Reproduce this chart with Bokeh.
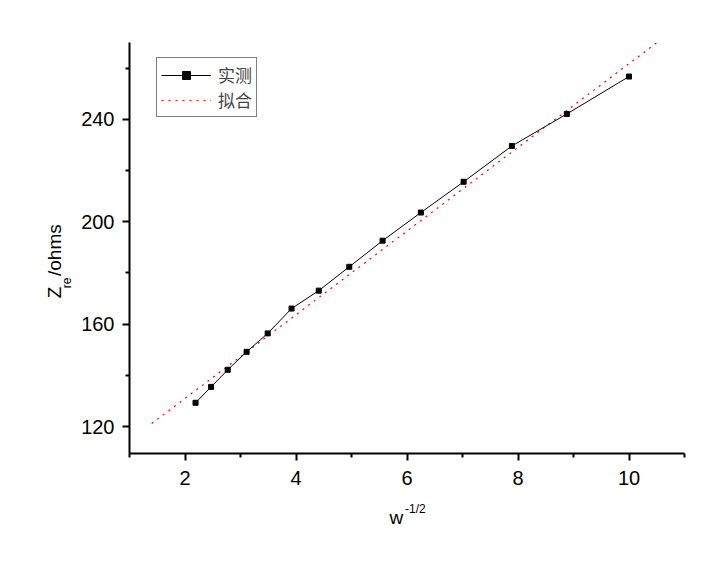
from bokeh.plotting import figure
from bokeh.models import Range1d, FixedTicker, Legend, LegendItem, LinearAxis
from bokeh.embed import file_html
from bokeh.resources import INLINE

# measured data (实测)
meas_x = [2.19, 2.47, 2.77, 3.11, 3.49, 3.92, 4.41, 4.96, 5.56, 6.25, 7.02, 7.89, 8.88, 10.0]
meas_y = [129.3, 135.5, 142.2, 149.2, 156.4, 166.1, 173.1, 182.4, 192.6, 203.6, 215.6, 229.6, 242.1, 256.7]

# fitted line (拟合)
fit_x = [1.4, 10.5]
fit_y = [121.2, 269.9]

x_major = [2, 4, 6, 8, 10]
x_minor = [1, 3, 5, 7, 9, 11]
y_major = [120, 160, 200, 240]
y_minor = [140, 180, 220, 260]

FONT = "Liberation Sans"
NB = "\u00a0"

p = figure(frame_width=555, frame_height=411,
           min_border_left=129, min_border_right=30, min_border_top=42, min_border_bottom=110,
           x_range=Range1d(1, 11), y_range=Range1d(109.5, 270),
           output_backend="svg", toolbar_location=None)
p.xgrid.visible = False
p.ygrid.visible = False
p.outline_line_color = None
p.background_fill_color = "white"
p.border_fill_color = "white"

p.xaxis.ticker = FixedTicker(ticks=x_major, minor_ticks=x_minor)
p.yaxis.ticker = FixedTicker(ticks=y_major, minor_ticks=y_minor)
for ax in (p.xaxis, p.yaxis):
    ax.axis_line_width = 2
    ax.major_tick_line_width = 2
    ax.minor_tick_line_width = 2
    ax.major_tick_out = 7
    ax.major_tick_in = 0
    ax.minor_tick_out = 4
    ax.minor_tick_in = 0
    ax.major_label_text_font = FONT
    ax.major_label_text_font_size = "20px"
    ax.major_label_text_color = "black"
    ax.axis_line_color = "black"
    ax.major_tick_line_color = "black"
    ax.minor_tick_line_color = "black"
p.xaxis.major_label_standoff = 10
p.yaxis.major_label_standoff = 8


def title_axis(place, text, size, standoff):
    ax = LinearAxis(ticker=FixedTicker(ticks=[]), axis_line_color=None,
                    major_tick_out=0, major_tick_in=0, minor_tick_out=0, minor_tick_in=0,
                    major_label_text_font_size="0px", major_label_standoff=0,
                    axis_label=text, axis_label_text_font=FONT,
                    axis_label_text_font_size=size, axis_label_text_font_style="normal",
                    axis_label_text_color="black", axis_label_standoff=standoff)
    p.add_layout(ax, place)


# x title: w^(-1/2)  (superscript row first, closer to the frame)
title_axis("below", NB * 5 + "-1/2", "12px", 14)
title_axis("below", "w" + NB * 4, "19px", -12)
# y title: Z_re/ohms  (subscript column first, closer to the frame)
title_axis("left", "re" + NB * 21, "12px", 5)
title_axis("left", "Z" + NB * 2 + "/ohms" + NB * 5, "19px", -8)

fit_r = p.line(fit_x, fit_y, line_color="red", line_dash="2 5", line_width=1.2)
ml = p.line(meas_x, meas_y, line_color="black", line_width=1)
ms = p.scatter(meas_x, meas_y, marker="square", size=5, fill_color="black", line_color="black")

legend = Legend(items=[LegendItem(label="实测", renderers=[ml, ms]),
                       LegendItem(label="拟合", renderers=[fit_r])],
                location=(27, 336), border_line_color="black", border_line_width=1.5,
                padding=4, spacing=0, glyph_width=50, glyph_height=20,
                label_standoff=7, label_text_font="Noto Sans CJK SC",
                label_text_font_size="17px", label_height=20,
                background_fill_color="white", background_fill_alpha=1)
p.add_layout(legend)

open("out.html", "w").write(file_html(p, INLINE))
